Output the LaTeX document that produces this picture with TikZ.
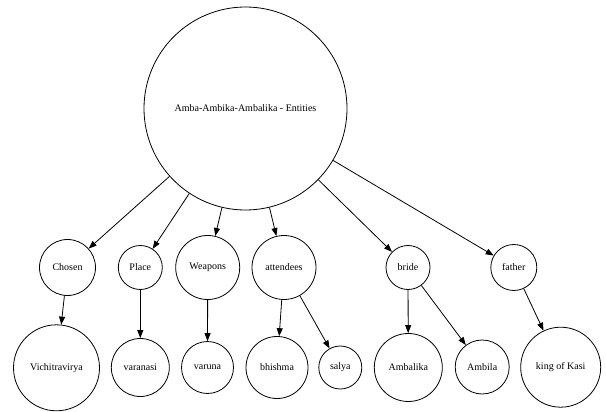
\documentclass[tikz,border=0pt]{standalone}
\usepackage{fontspec}
\setmainfont{Liberation Serif}
\usetikzlibrary{arrows.meta}
\begin{document}
\begin{tikzpicture}[x=1pt,y=-1pt,
  ent/.style={circle,draw,line width=0.8pt,inner sep=0pt,font=\fontsize{10}{12}\selectfont},
  rel/.style={line width=0.8pt,-{Triangle[length=8pt,width=6pt]}}]
\useasboundingbox (0,0) rectangle (606,412);
\node[ent,minimum size=203pt] (root) at (245.5,108.5) {Amba-Ambika-Ambalika - Entities};
\node[ent,minimum size=56pt] (chosen) at (67.5,267.5) {Chosen};
\node[ent,minimum size=44pt] (place) at (140.3,267.5) {Place};
\node[ent,minimum size=64pt] (weapons) at (207.7,267.5) {Weapons};
\node[ent,minimum size=64pt] (attendees) at (284,267.5) {attendees};
\node[ent,minimum size=44pt] (bride) at (408,267.5) {bride};
\node[ent,minimum size=46pt] (father) at (513.8,267.5) {father};
\node[ent,minimum size=86pt] (vichi) at (56.5,367.8) {Vichitravirya};
\node[ent,minimum size=58pt] (varanasi) at (140.3,367.5) {varanasi};
\node[ent,minimum size=52pt] (varuna) at (207.5,367.5) {varuna};
\node[ent,minimum size=62pt] (bhishma) at (277,367.5) {bhishma};
\node[ent,minimum size=43pt] (salya) at (340.3,367.5) {salya};
\node[ent,minimum size=68pt] (ambalika) at (408.3,367.5) {Ambalika};
\node[ent,minimum size=54pt] (ambila) at (482.2,367) {Ambila};
\node[ent,minimum size=80pt] (kasi) at (560.7,367.2) {king of Kasi};
\draw[rel] (root) -- (chosen);
\draw[rel] (root) -- (place);
\draw[rel] (root) -- (weapons);
\draw[rel] (root) -- (attendees);
\draw[rel] (root) -- (bride);
\draw[rel] (root) -- (father);
\draw[rel] (chosen) -- (vichi);
\draw[rel] (place) -- (varanasi);
\draw[rel] (weapons) -- (varuna);
\draw[rel] (attendees) -- (bhishma);
\draw[rel] (attendees) -- (salya);
\draw[rel] (bride) -- (ambalika);
\draw[rel] (bride) -- (ambila);
\draw[rel] (father) -- (kasi);
\end{tikzpicture}
\end{document}
